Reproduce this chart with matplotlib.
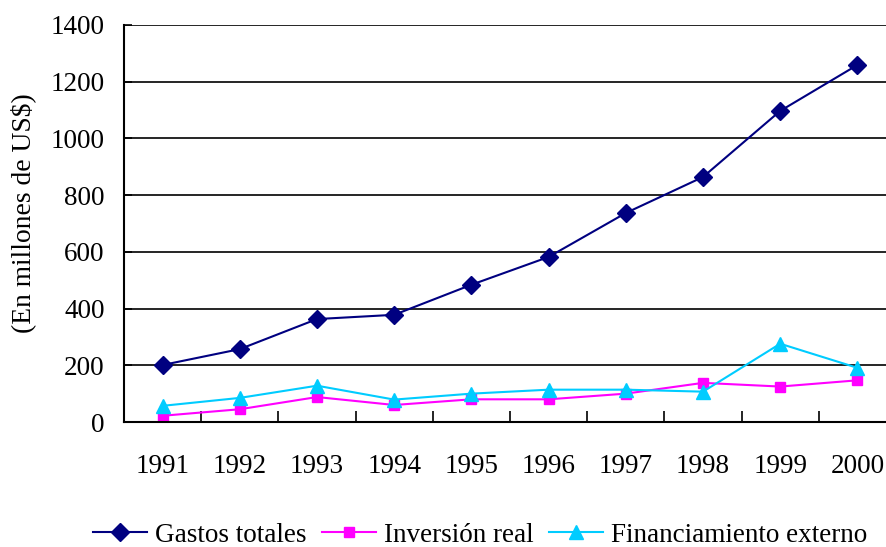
import matplotlib
matplotlib.use('Agg')
import matplotlib.pyplot as plt

years = ['1991', '1992', '1993', '1994', '1995', '1996', '1997', '1998', '1999', '2000']
gastos = [201, 257, 363, 378, 484, 582, 737, 864, 1097, 1259]
inversion = [22, 45, 88, 60, 80, 80, 100, 138, 125, 147]
financiamiento = [57, 85, 128, 79, 100, 114, 114, 107, 276, 191]

plt.rcParams['font.family'] = ['Liberation Serif', 'DejaVu Serif']
fs = 19.5

fig = plt.figure(figsize=(8.86, 5.47), dpi=100)
# right edge of the plot runs past the image like in the original
ax = fig.add_axes([124 / 886, 125 / 547, 772 / 886, 397 / 547])

x = list(range(len(years)))
ax.plot(x, gastos, color='#000080', marker='D', markersize=9.5, lw=1.5, label='Gastos totales')
ax.plot(x, inversion, color='#FF00FF', marker='s', markersize=7.5, lw=1.5, label='Inversión real')
ax.plot(x, financiamiento, color='#00CCFF', marker='^', markersize=9.5, lw=1.5, label='Financiamiento externo')

ax.set_xlim(-0.5, len(years) - 0.5)
ax.set_ylim(0, 1400)
ax.set_yticks(range(0, 1401, 200))
ax.yaxis.grid(True, color='black', lw=1.2)
ax.set_axisbelow(True)

ax.set_xticks([i + 0.5 for i in range(len(years) - 1)])
ax.set_xticklabels([])
ax.set_xticks(x, minor=True)
ax.set_xticklabels(years, minor=True, fontsize=fs)
ax.tick_params(axis='x', which='major', direction='in', length=8, width=1.2)
ax.tick_params(axis='x', which='minor', length=0, pad=23)
ax.tick_params(axis='y', direction='in', length=6, width=1.2, labelsize=fs, pad=14)

for side in ['top', 'right']:
    ax.spines[side].set_visible(False)
ax.spines['left'].set_linewidth(1.5)
ax.spines['bottom'].set_linewidth(1.5)

ax.set_ylabel('(En millones de US$)', fontsize=19.8)
ax.yaxis.set_label_coords(-0.114, 0.526)

fig.legend(loc='center', bbox_to_anchor=(0.542, 1 - 535 / 547), ncol=3, frameon=False,
           fontsize=fs, handlelength=2.0, handletextpad=0.3, columnspacing=0.55,
           borderpad=0)

fig.savefig('out.png', dpi=100)
